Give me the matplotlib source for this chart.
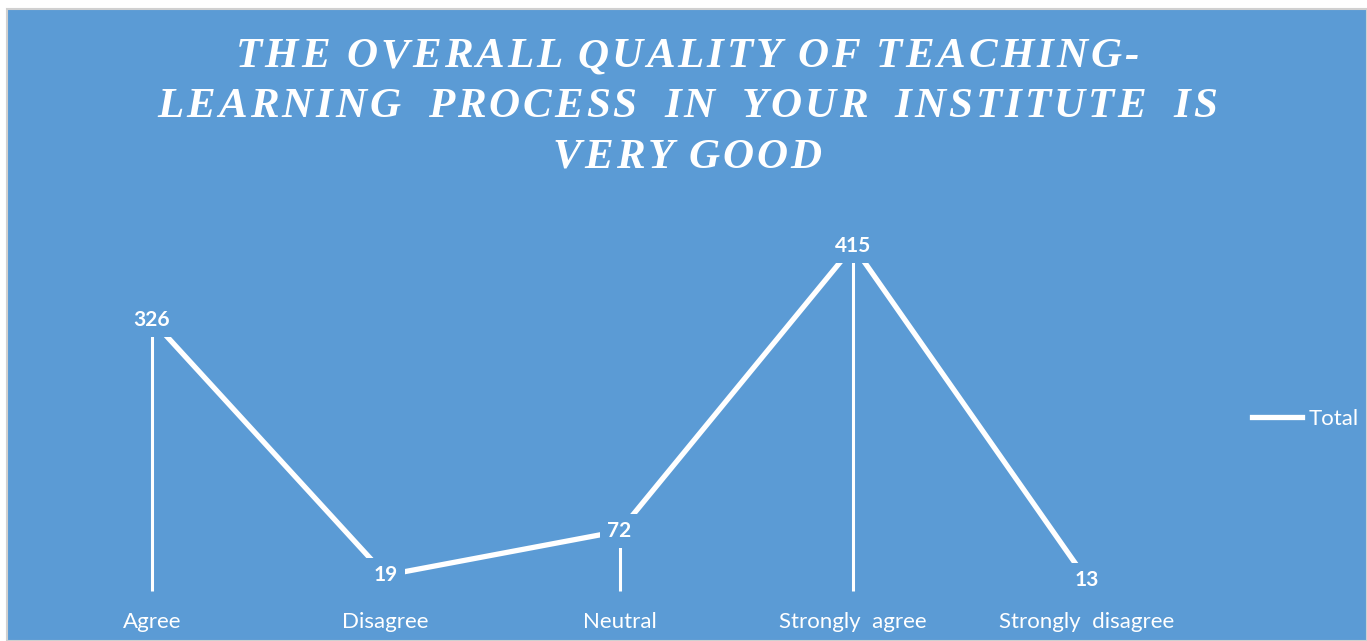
import matplotlib.pyplot as plt
from matplotlib.patches import Rectangle

# chart data
categories = ['Agree', 'Disagree', 'Neutral', 'Strongly  agree', 'Strongly  disagree']
totals = [326, 19, 72, 415, 13]
series_name = 'Total'
title_lines = ['THE OVERALL QUALITY OF TEACHING-',
               'LEARNING  PROCESS  IN  YOUR  INSTITUTE  IS',
               'VERY GOOD']

bg = '#5B9BD5'
W, H = 1367, 641

fig = plt.figure(figsize=(W / 100, H / 100), dpi=100, facecolor='white')
fig.patches.append(Rectangle((7 / W, 0), 1 - 7 / W, 1 - 9 / H, transform=fig.transFigure,
                             facecolor=bg, edgecolor='#D0D0D0', lw=1.5, zorder=-5))

ax = fig.add_axes([35 / W, 41 / H, 1169 / W, 400 / H])
ax.set_facecolor('none')
ax.set_zorder(2)
x = list(range(len(categories)))

ax.vlines(x, 0, totals, color='white', lw=2.2, zorder=2)
ax.plot(x, totals, color='white', lw=3.8, zorder=3, label=series_name)
for xi, v in zip(x, totals):
    ax.text(xi, v, str(v), ha='center', va='center', color='white', fontsize=15,
            fontweight='bold', family='Lato', zorder=5,
            bbox=dict(boxstyle='square,pad=0.35', fc=bg, ec='none'))

ax.set_xlim(-0.5, 4.5)
ax.set_ylim(-10.8, 470.5)
ax.set_yticks([])
ax.set_xticks(x)
ax.set_xticklabels(categories, color='white', fontsize=16, family='Lato')
ax.tick_params(axis='x', length=0, pad=9)
for s in ax.spines.values():
    s.set_visible(False)

# title with letter spacing, drawn char by char
renderer = fig.canvas.get_renderer()
tfont = dict(fontsize=31, fontweight='bold', fontstyle='italic', family='Liberation Serif')


def text_width(s):
    t = fig.text(0, 0, s + '|', **tfont)
    w = t.get_window_extent(renderer).width
    t.remove()
    return w


bar_w = text_width('')
tracking = 3.0
cx = (7 + W) / 2
for line, yy in zip(title_lines, [57, 107, 158]):
    offs = []
    extra = 0.0
    for i in range(len(line) + 1):
        offs.append(text_width(line[:i]) - bar_w + extra)
        if i < len(line) and not (line[i] == ' ' and i > 0 and line[i - 1] == ' '):
            extra += tracking
    total = offs[-1] - tracking
    x0 = cx - total / 2
    for ch, o in zip(line, offs):
        if ch != ' ':
            fig.text((x0 + o) / W, 1 - yy / H, ch, ha='left', va='center',
                     color='white', **tfont)

fig.legend(handles=ax.get_lines(), labels=[series_name], loc='center left',
           bbox_to_anchor=(1232 / W, 1 - 419 / H), frameon=False,
           handlelength=2.25, handletextpad=0.3, labelcolor='white', prop={'family': 'Lato', 'size': 16})

fig.savefig('out.png', dpi=100, facecolor='white')
